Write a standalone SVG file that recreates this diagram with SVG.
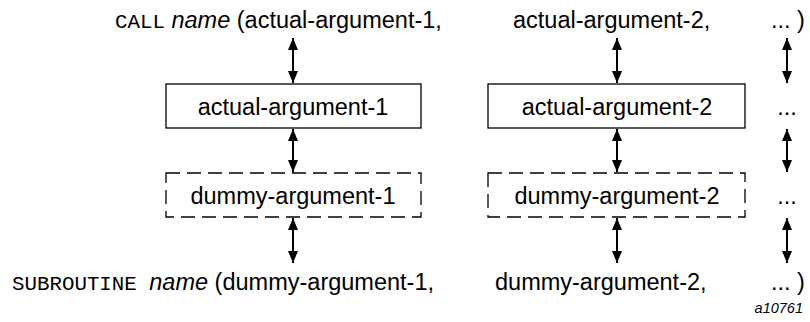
<svg xmlns="http://www.w3.org/2000/svg" width="810" height="322" viewBox="0 0 810 322">
<style>
.t{font-family:"Liberation Sans",Arial,sans-serif;font-size:23.5px;fill:#000}
.m{font-family:"Liberation Mono","Courier New",monospace;font-size:20.8px}
.i{font-style:italic}
.box{fill:#fff;stroke:#000;stroke-width:1.3}
.dash{fill:none;stroke:#000;stroke-width:1.3;stroke-dasharray:14 7}
.arr{stroke:#000;stroke-width:2;marker-start:url(#h);marker-end:url(#h)}
</style>
<defs>
<marker id="h" viewBox="0 0 12 10" refX="12" refY="5" markerWidth="12" markerHeight="10" markerUnits="userSpaceOnUse" orient="auto-start-reverse">
<path d="M0,0 L12,5 L0,10 Z" fill="#000"/>
</marker>
</defs>
<g id="call-line">
<text class="t" x="115" y="28"><tspan class="m">CALL</tspan> <tspan class="i">name</tspan> (actual-argument-1,</text>
<text class="t" x="513" y="28">actual-argument-2,</text>
<text class="t" x="771" y="28">... )</text>
</g>
<g id="actual-1">
<rect class="box" x="166" y="84" width="255" height="44"/>
<text class="t" x="293" y="115" text-anchor="middle">actual-argument-1</text>
</g>
<g id="actual-2">
<rect class="box" x="488" y="84" width="257" height="44"/>
<text class="t" x="617" y="115" text-anchor="middle">actual-argument-2</text>
</g>
<g id="actual-more">
<text class="t" x="787" y="115" text-anchor="middle">...</text>
</g>
<g id="dummy-1">
<path class="dash" d="M166,173 H421 V217 H166 Z"/>
<text class="t" x="293" y="204" text-anchor="middle">dummy-argument-1</text>
</g>
<g id="dummy-2">
<path class="dash" d="M488,173 H745 V217 H488 Z"/>
<text class="t" x="617" y="204" text-anchor="middle">dummy-argument-2</text>
</g>
<g id="dummy-more">
<text class="t" x="787" y="204" text-anchor="middle">...</text>
</g>
<g id="subroutine-line">
<text class="t" x="12" y="290"><tspan class="m">SUBROUTINE </tspan><tspan class="i">name</tspan> (dummy-argument-1,</text>
<text class="t" x="495" y="290">dummy-argument-2,</text>
<text class="t" x="771" y="290">... )</text>
</g>
<g id="connectors">
<line class="arr" x1="293" y1="38" x2="293" y2="83"/>
<line class="arr" x1="617" y1="38" x2="617" y2="83"/>
<line class="arr" x1="787" y1="38" x2="787" y2="83"/>
<line class="arr" x1="293" y1="129" x2="293" y2="172"/>
<line class="arr" x1="617" y1="129" x2="617" y2="172"/>
<line class="arr" x1="787" y1="129" x2="787" y2="172"/>
<line class="arr" x1="293" y1="218" x2="293" y2="263"/>
<line class="arr" x1="617" y1="218" x2="617" y2="263"/>
<line class="arr" x1="787" y1="218" x2="787" y2="263"/>
</g>
<text class="t i" x="803" y="313" text-anchor="end" style="font-size:14.5px">a10761</text>
</svg>
